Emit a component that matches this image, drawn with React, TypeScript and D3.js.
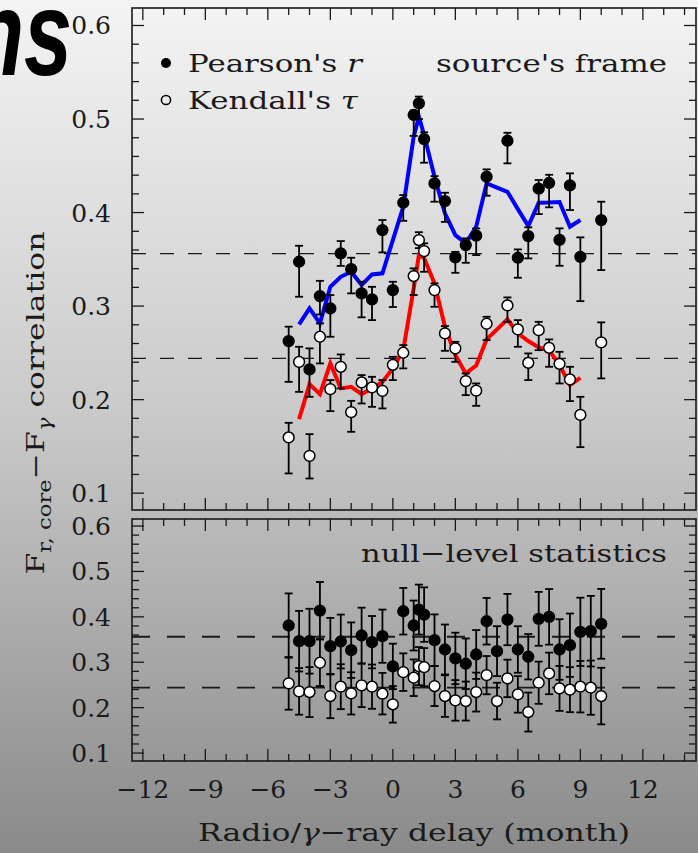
import React from 'react';
import * as d3 from 'd3';

const W = 698;
const H = 853;

// source's frame, [month, value, low, high]
const pearsonPts: number[][] = [
  [-5, 0.2626, 0.219, 0.278], [-4.5, 0.3474, 0.31, 0.3645], [-4, 0.2323, 0.203, 0.2548],
  [-3.5, 0.3107, 0.291, 0.327], [-3, 0.2975, 0.2672, 0.3118], [-2.5, 0.3564, 0.343, 0.3695],
  [-2, 0.3396, 0.3136, 0.3517], [-1.5, 0.3136, 0.288, 0.326], [-1, 0.3072, 0.285, 0.3206],
  [-0.5, 0.3813, 0.3574, 0.392], [0, 0.3171, 0.299, 0.326], [0.5, 0.4105, 0.3912, 0.4187],
  [1, 0.5043, 0.482, 0.509], [1.25, 0.5168, 0.5, 0.524], [1.5, 0.4786, 0.4533, 0.4858],
  [2, 0.4312, 0.4116, 0.439], [2.5, 0.4123, 0.39, 0.4212], [3, 0.3521, 0.3356, 0.358],
  [3.5, 0.3652, 0.3463, 0.3724], [4, 0.3754, 0.3545, 0.383], [4.5, 0.4383, 0.418, 0.4462],
  [5.5, 0.4768, 0.4526, 0.4853], [6, 0.3517, 0.3303, 0.3606], [6.5, 0.3749, 0.351, 0.3842],
  [7, 0.4255, 0.3984, 0.4348], [7.5, 0.4316, 0.4056, 0.4404], [8, 0.3709, 0.3431, 0.3831],
  [8.5, 0.4291, 0.4027, 0.4419], [9, 0.3527, 0.3053, 0.3735], [10, 0.392, 0.3385, 0.4116],
];

const kendallPts: number[][] = [
  [-5, 0.1596, 0.1211, 0.1752], [-4.5, 0.2404, 0.2083, 0.2565], [-4, 0.1399, 0.1157, 0.1631],
  [-3.5, 0.2672, 0.2387, 0.2815], [-3, 0.2112, 0.1877, 0.2209], [-2.5, 0.2351, 0.212, 0.2483],
  [-2, 0.1866, 0.1656, 0.1987], [-1.5, 0.2184, 0.1959, 0.2262], [-1, 0.2131, 0.1923, 0.2244],
  [-0.5, 0.2094, 0.1906, 0.2209], [0, 0.2372, 0.2209, 0.2458], [0.5, 0.2501, 0.2334, 0.2583],
  [1, 0.3321, 0.3118, 0.3403], [1.25, 0.3706, 0.362, 0.379], [1.5, 0.3588, 0.3367, 0.3671],
  [2, 0.3171, 0.2993, 0.3243], [2.5, 0.2708, 0.2522, 0.2786], [3, 0.2548, 0.2404, 0.2618],
  [3.5, 0.2198, 0.2048, 0.228], [4, 0.2096, 0.1934, 0.2173], [4.5, 0.2811, 0.2636, 0.2886],
  [5.5, 0.3007, 0.2832, 0.3093], [6, 0.2751, 0.2565, 0.285], [6.5, 0.2394, 0.2209, 0.2494],
  [7, 0.2743, 0.2529, 0.2832], [7.5, 0.2554, 0.2351, 0.2644], [8, 0.2383, 0.2173, 0.2511],
  [8.5, 0.2216, 0.1984, 0.2351], [9, 0.1837, 0.1492, 0.203], [10, 0.2612, 0.2227, 0.2826],
];

const smoothMonths = [-4.5, -4, -3.5, -3, -2.5, -2, -1.5, -1, -0.5, 0, 0.5, 1, 1.25, 1.5, 2, 2.5,
  3, 3.5, 4, 4.5, 5, 5.5, 6, 6.5, 7, 7.5, 8, 8.5, 9];
const pearsonSmooth = [0.2804, 0.2975, 0.2815, 0.3206, 0.3313, 0.3367, 0.3225, 0.3339, 0.335,
  0.3706, 0.4062, 0.4811, 0.5025, 0.4829, 0.4383, 0.3991, 0.3759, 0.3671, 0.3848, 0.4312,
  0.4267, 0.4222, 0.4037, 0.3856, 0.4105, 0.4107, 0.4112, 0.3848, 0.392];
const kendallSmooth = [0.1791, 0.2166, 0.2059, 0.2387, 0.212, 0.2137, 0.2059, 0.212, 0.219,
  0.2334, 0.2529, 0.3189, 0.3545, 0.3513, 0.3243, 0.2779, 0.2476, 0.228, 0.2364, 0.2644,
  0.2751, 0.2858, 0.2708, 0.2626, 0.2558, 0.2529, 0.2369, 0.2155, 0.2233];

// null-level statistics, [month, value, error]
const pearsonNull: number[][] = [
  [-5, 0.3809, 0.0707], [-4.5, 0.3464, 0.0667], [-4, 0.3464, 0.0714], [-3.5, 0.4138, 0.063],
  [-3, 0.3354, 0.0623], [-2.5, 0.3457, 0.0593], [-2, 0.3266, 0.0611], [-1.5, 0.3589, 0.0612],
  [-1, 0.3442, 0.0576], [-0.5, 0.3574, 0.0586], [0, 0.2908, 0.0501], [0.5, 0.4123, 0.0513],
  [1, 0.3809, 0.055], [1.25, 0.416, 0.055], [1.5, 0.405, 0.06], [2, 0.3486, 0.0568],
  [2.5, 0.3281, 0.055], [3, 0.3084, 0.0567], [3.5, 0.2967, 0.0557], [4, 0.3171, 0.0538],
  [4.5, 0.3903, 0.0513], [5, 0.3244, 0.055], [5.5, 0.394, 0.0565], [6, 0.3281, 0.0512],
  [6.5, 0.3121, 0.05], [7, 0.3956, 0.0593], [7.5, 0.4, 0.0612], [8, 0.3281, 0.0667],
  [8.5, 0.3376, 0.0697], [9, 0.367, 0.0752], [9.5, 0.3684, 0.0777], [10, 0.3846, 0.0769],
];
const kendallNull: number[][] = [
  [-5, 0.2534, 0.0579], [-4.5, 0.2358, 0.0513], [-4, 0.2343, 0.055], [-3.5, 0.2989, 0.0513],
  [-3, 0.2255, 0.0487], [-2.5, 0.2462, 0.0495], [-2, 0.2314, 0.0465], [-1.5, 0.249, 0.0477],
  [-1, 0.2462, 0.0487], [-0.5, 0.2308, 0.0458], [0, 0.2073, 0.0402], [0.5, 0.2782, 0.0414],
  [1, 0.2659, 0.0403], [1.25, 0.2914, 0.042], [1.5, 0.2892, 0.042], [2, 0.2475, 0.044],
  [2.5, 0.2255, 0.0458], [3, 0.216, 0.0447], [3.5, 0.2145, 0.0429], [4, 0.2343, 0.0429],
  [4.5, 0.2716, 0.0421], [5, 0.2145, 0.0403], [5.5, 0.2644, 0.0413], [6, 0.2292, 0.0402],
  [6.5, 0.1903, 0.0429], [7, 0.2549, 0.0465], [7.5, 0.2754, 0.0458], [8, 0.2424, 0.0495],
  [8.5, 0.2396, 0.0495], [9, 0.2462, 0.0567], [9.5, 0.244, 0.0597], [10, 0.2255, 0.0623],
];

const refLevels = [0.356, 0.244];
const xTickLabels = [-12, -9, -6, -3, 0, 3, 6, 9, 12];
const yTickLabels = [0.1, 0.2, 0.3, 0.4, 0.5, 0.6];

const SERIF = "'DejaVu Serif', serif";
const INK = '#1a1a1a';

const x = d3.scaleLinear().domain([-12.52, 14.55]).range([132, 696]);
const yTop = d3.scaleLinear().domain([0.082, 0.6187]).range([510, 8]);
const yBot = d3.scaleLinear().domain([0.0825, 0.6155]).range([761, 519]);

const fmtMinus = (v: number) => (v < 0 ? '\u2212' + Math.abs(v) : String(v));

function Frame({ y, dash, dashWidth }: { y: d3.ScaleLinear<number, number>; dash: string; dashWidth: number }) {
  const [x0, x1] = x.range();
  const [b, t] = y.range();
  const monthTicks = d3.range(-12, 15);
  const valTicks = d3.range(5, 31).map((i) => i / 50);
  return (
    <g stroke={INK} fill="none">
      <rect x={x0} y={t} width={x1 - x0} height={b - t} strokeWidth={1.6} />
      {monthTicks.map((m) => {
        const len = m % 3 === 0 ? 12 : 7;
        return (
          <g key={'m' + m} strokeWidth={1.3}>
            <line x1={x(m)} x2={x(m)} y1={t} y2={t + len} />
            <line x1={x(m)} x2={x(m)} y1={b} y2={b - len} />
          </g>
        );
      })}
      {valTicks.map((v, i) => {
        const len = Math.round(v * 50) % 5 === 0 ? 12 : 7;
        return (
          <g key={'v' + i} strokeWidth={1.3}>
            <line x1={x0} x2={x0 + len} y1={y(v)} y2={y(v)} />
            <line x1={x1} x2={x1 - len} y1={y(v)} y2={y(v)} />
          </g>
        );
      })}
      {refLevels.map((r) => (
        <line key={r} x1={x0} x2={x1} y1={y(r)} y2={y(r)} strokeWidth={dashWidth} strokeDasharray={dash} />
      ))}
      {yTickLabels.map((v) => (
        <text key={'l' + v} x={111} y={y(v)} dy="0.36em" textAnchor="end" fill={INK} stroke="none"
          fontFamily={SERIF} fontSize={25}>{v.toFixed(1)}</text>
      ))}
    </g>
  );
}

function ErrPoints({ rows, y, open, asym }: { rows: number[][]; y: d3.ScaleLinear<number, number>; open: boolean; asym: boolean }) {
  return (
    <g>
      {rows.map((d, i) => {
        const lo = asym ? d[2] : d[1] - d[2];
        const hi = asym ? d[3] : d[1] + d[2];
        const cx = x(d[0]);
        return (
          <g key={i} stroke="#000" strokeWidth={1.8}>
            <line x1={cx} x2={cx} y1={y(lo)} y2={y(hi)} />
            <line x1={cx - 4} x2={cx + 4} y1={y(lo)} y2={y(lo)} />
            <line x1={cx - 4} x2={cx + 4} y1={y(hi)} y2={y(hi)} />
          </g>
        );
      })}
      {rows.map((d, i) => (
        <circle key={'c' + i} cx={x(d[0])} cy={y(d[1])} r={open ? 5.4 : 5.4}
          fill={open ? '#fff' : '#000'} stroke="#000" strokeWidth={1.5} />
      ))}
    </g>
  );
}

export default function App() {
  const line = d3.line<number>().x((_, i) => x(smoothMonths[i])).y((v) => yTop(v));
  const x0 = x.range()[0];
  return (
    <svg width={W} height={H} style={{ position: 'absolute', left: 0, top: 0 }}>
      <defs>
        <linearGradient id="bg" x1="0" y1="0" x2="0" y2="1">
          <stop offset="0" stopColor="#f4f4f4" />
          <stop offset="0.5" stopColor="#c8c8c8" />
          <stop offset="1" stopColor="#8a8a8a" />
        </linearGradient>
      </defs>
      <rect width={W} height={H} fill="url(#bg)" />
      <text transform="translate(72,75) scale(0.72,1)" textAnchor="end"
        fontFamily="'Liberation Sans', Arial, sans-serif" fontWeight="bold"
        fontStyle="italic" fontSize={120} fill="#000">ns</text>

      <Frame y={yTop} dash="14,14" dashWidth={1.3} />
      <Frame y={yBot} dash="18,17" dashWidth={1.9} />

      <path d={line(pearsonSmooth) || ''} fill="none" stroke="#0000ff" strokeWidth={4} />
      <path d={line(kendallSmooth) || ''} fill="none" stroke="#ff0000" strokeWidth={4} />
      <ErrPoints rows={pearsonPts} y={yTop} open={false} asym />
      <ErrPoints rows={kendallPts} y={yTop} open asym />
      <ErrPoints rows={pearsonNull} y={yBot} open={false} asym={false} />
      <ErrPoints rows={kendallNull} y={yBot} open asym={false} />

      <g fontFamily={SERIF} fontSize={25} fill={INK}>
        <circle cx={166} cy={63} r={5} fill="#000" />
        <circle cx={166} cy={100} r={4.6} fill="none" stroke="#000" strokeWidth={1.5} />
        <text x={188} y={72} textLength={174} lengthAdjust="spacingAndGlyphs">Pearson's <tspan fontStyle="italic">r</tspan></text>
        <text x={188} y={109} textLength={170} lengthAdjust="spacingAndGlyphs">Kendall's <tspan fontStyle="italic">τ</tspan></text>
        <text x={667} y={72} textAnchor="end" textLength={231} lengthAdjust="spacingAndGlyphs">source's frame</text>
        <text x={667} y={562} textAnchor="end" textLength={306} lengthAdjust="spacingAndGlyphs">null−level statistics</text>

        {xTickLabels.map((m) => (
          <text key={m} x={x(m)} y={798} textAnchor="middle">{fmtMinus(m)}</text>
        ))}
        <text x={414} y={841} textAnchor="middle" textLength={432} lengthAdjust="spacingAndGlyphs">
          Radio/<tspan fontStyle="italic">γ</tspan>−ray delay (month)
        </text>
        <text transform={`translate(${x0 - 88},403) rotate(-90)`} textAnchor="middle" textLength={343}
          lengthAdjust="spacingAndGlyphs">
          F<tspan fontSize={18} dy={7}>r, core</tspan><tspan dy={-7}>−F</tspan><tspan fontSize={18} dy={7} fontStyle="italic">γ</tspan><tspan dy={-7}> correlation</tspan>
        </text>
      </g>
    </svg>
  );
}
